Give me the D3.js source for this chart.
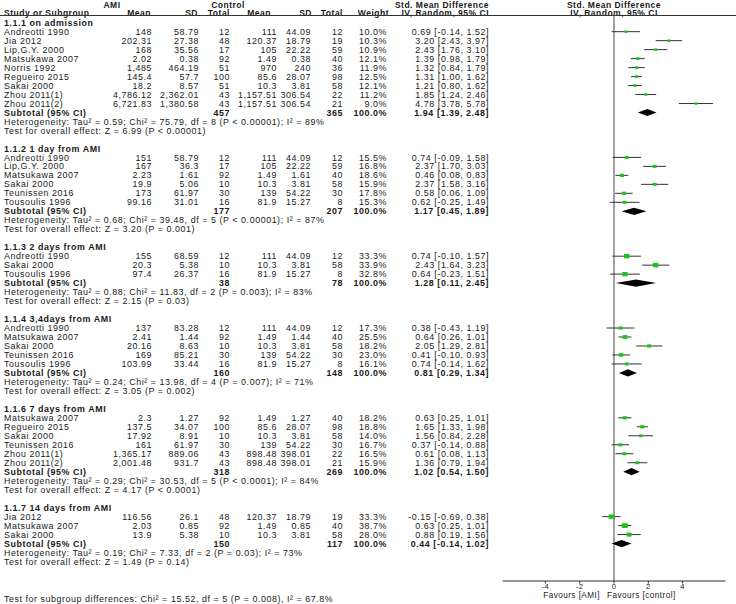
<!DOCTYPE html>
<html><head><meta charset="utf-8">
<script src="https://cdn.jsdelivr.net/npm/d3@7"></script>
<style>
html,body{margin:0;padding:0;background:#fff;}
text{font-family:"Liberation Sans",Arial,sans-serif;font-size:8.9px;fill:#1a1a1a;letter-spacing:0.56px;}
.b{font-weight:bold;}
.h{font-size:8.5px;letter-spacing:0.5px;}
.tl{font-size:7.6px;letter-spacing:0.4px;}
.sm{font-size:8.2px;letter-spacing:0.45px;}
</style></head>
<body><svg id="c" width="736" height="604"></svg>
<script>
// ---------- DATA ----------
const groupTitles = ["1.1.1 on admission","1.1.2 1 day from AMI","1.1.3 2 days from AMI","1.1.4 3,4days from AMI","1.1.6 7 days from AMI","1.1.7 14 days from AMI"];
const studyGroup = [0,0,0,0,0,0,0,0,0, 1,1,1,1,1,1, 2,2,2, 3,3,3,3,3, 4,4,4,4,4,4, 5,5,5];
const studyNames = ["Andreotti 1990","Jia 2012","Lip,G.Y. 2000","Matsukawa 2007","Norris 1992","Regueiro 2015","Sakai 2000","Zhou 2011(1)","Zhou 2011(2)",
  "Andreotti 1990","Lip,G.Y. 2000","Matsukawa 2007","Sakai 2000","Teunissen 2016","Tousoulis 1996",
  "Andreotti 1990","Sakai 2000","Tousoulis 1996",
  "Andreotti 1990","Matsukawa 2007","Sakai 2000","Teunissen 2016","Tousoulis 1996",
  "Matsukawa 2007","Regueiro 2015","Sakai 2000","Teunissen 2016","Zhou 2011(1)","Zhou 2011(2)",
  "Jia 2012","Matsukawa 2007","Sakai 2000"];
const amiMean = ["148","202.31","168","2.02","1,485","145.4","18.2","4,786.12","6,721.83",
  "151","167","2.23","19.9","173","99.16",
  "155","20.3","97.4",
  "137","2.41","20.16","169","103.99",
  "2.3","137.5","17.92","161","1,365.17","2,001.48",
  "116.56","2.03","13.9"];
const amiSD = ["58.79","27.38","35.56","0.38","464.19","57.7","8.57","2,362.01","1,380.58",
  "58.79","36.3","1.61","5.06","61.97","31.01",
  "68.59","5.38","26.37",
  "83.28","1.44","8.63","85.21","33.44",
  "1.27","34.07","8.91","61.97","889.06","931.7",
  "26.1","0.85","5.38"];
const amiTotal = [12,48,17,92,51,100,51,43,43, 12,17,92,10,30,16, 12,10,16, 12,92,10,30,16, 92,100,10,30,43,43, 48,92,10];
const ctlMean = ["111","120.37","105","1.49","970","85.6","10.3","1,157.51","1,157.51",
  "111","105","1.49","10.3","139","81.9",
  "111","10.3","81.9",
  "111","1.49","10.3","139","81.9",
  "1.49","85.6","10.3","139","898.48","898.48",
  "120.37","1.49","10.3"];
const ctlSD = ["44.09","18.79","22.22","0.38","240","28.07","3.81","306.54","306.54",
  "44.09","22.22","1.61","3.81","54.22","15.27",
  "44.09","3.81","15.27",
  "44.09","1.44","3.81","54.22","15.27",
  "1.27","28.07","3.81","54.22","398.01","398.01",
  "18.79","0.85","3.81"];
const ctlTotal = [12,19,59,40,36,98,58,22,21, 12,59,40,58,30,8, 12,58,8, 12,40,58,30,8, 40,98,58,30,22,21, 19,40,58];
const weights = [10.0,10.3,10.9,12.1,11.9,12.5,12.1,11.2,9.0, 15.5,16.8,18.6,15.9,17.8,15.3, 33.3,33.9,32.8, 17.3,25.5,18.2,23.0,16.1, 18.2,18.8,14.0,16.7,16.5,15.9, 33.3,38.7,28.0];
const smd = [0.69,3.20,2.43,1.39,1.32,1.31,1.21,1.85,4.78, 0.74,2.37,0.46,2.37,0.58,0.62, 0.74,2.43,0.64, 0.38,0.64,2.05,0.41,0.74, 0.63,1.65,1.56,0.37,0.61,1.36, -0.15,0.63,0.88];
const ciLow = [-0.14,2.43,1.76,0.98,0.84,1.00,0.80,1.24,3.78, -0.09,1.70,0.08,1.58,0.06,-0.25, -0.10,1.64,-0.23, -0.43,0.26,1.29,-0.10,-0.14, 0.25,1.33,0.84,-0.14,0.08,0.79, -0.69,0.25,0.19];
const ciHigh = [1.52,3.97,3.10,1.79,1.79,1.62,1.62,2.46,5.78, 1.58,3.03,0.83,3.16,1.09,1.49, 1.57,3.23,1.51, 1.19,1.01,2.81,0.93,1.62, 1.01,1.98,2.28,0.88,1.13,1.94, 0.38,1.01,1.56];
const subAmiTotal = [457,177,38,160,318,150];
const subCtlTotal = [365,207,78,148,269,117];
const subSmd = [1.94,1.17,1.28,0.81,1.02,0.44];
const subLow = [1.39,0.45,0.11,0.29,0.54,-0.14];
const subHigh = [2.48,1.89,2.45,1.34,1.50,1.02];
const heterogeneity = [
  "Heterogeneity: Tau² = 0.59; Chi² = 75.79, df = 8 (P < 0.00001); I² = 89%",
  "Heterogeneity: Tau² = 0.68; Chi² = 39.48, df = 5 (P < 0.00001); I² = 87%",
  "Heterogeneity: Tau² = 0.88; Chi² = 11.83, df = 2 (P = 0.003); I² = 83%",
  "Heterogeneity: Tau² = 0.24; Chi² = 13.98, df = 4 (P = 0.007); I² = 71%",
  "Heterogeneity: Tau² = 0.29; Chi² = 30.53, df = 5 (P < 0.0001); I² = 84%",
  "Heterogeneity: Tau² = 0.19; Chi² = 7.33, df = 2 (P = 0.03); I² = 73%"];
const overallTest = [
  "Test for overall effect: Z = 6.99 (P < 0.00001)",
  "Test for overall effect: Z = 3.20 (P = 0.001)",
  "Test for overall effect: Z = 2.15 (P = 0.03)",
  "Test for overall effect: Z = 3.05 (P = 0.002)",
  "Test for overall effect: Z = 4.17 (P < 0.0001)",
  "Test for overall effect: Z = 1.49 (P = 0.14)"];
const subgroupTest = "Test for subgroup differences: Chi² = 15.52, df = 5 (P = 0.008), I² = 67.8%";
const axisTicks = [-4,-2,0,2,4];
const axisDomain = [-6.5, 6.5];
const favoursLeft = "Favours [AMI]";
const favoursRight = "Favours [control]";

// ---------- LAYOUT ----------
const svg = d3.select("#c");
const x = d3.scaleLinear().domain(axisDomain).range([502.5, 725.5]);
const rowY = d3.scaleLinear().domain([0, 1]).range([22.7, 22.7 + 8.98]);
const axisY = 581;
const loc = d3.formatLocale({decimal: ".", thousands: ",", grouping: [3], currency: ["", ""], minus: "-"});
const fmt2 = loc.format(".2f");
const fmtW = loc.format(".1f");

function txt(xp, yp, s, anchor, cls) {
  return svg.append("text").attr("x", xp).attr("y", yp).attr("dy", "0.35em")
    .attr("text-anchor", anchor || "start").attr("class", cls || null).text(s);
}
function effectStr(m, l, h) { return fmt2(m) + " [" + fmt2(l) + ", " + fmt2(h) + "]"; }

// headers
txt(112, 4.6, "AMI", "middle", "b h");
txt(228, 4.6, "Control", "middle", "b h");
txt(489, 4.6, "Std. Mean Difference", "end", "b h");
txt(x(0), 4.6, "Std. Mean Difference", "middle", "b h");
txt(4, 13.2, "Study or Subgroup", "start", "b h");
txt(151, 13.2, "Mean", "end", "b h");
txt(198, 13.2, "SD", "end", "b h");
txt(230, 13.2, "Total", "end", "b h");
txt(271, 13.2, "Mean", "end", "b h");
txt(312, 13.2, "SD", "end", "b h");
txt(343, 13.2, "Total", "end", "b h");
txt(389, 13.2, "Weight", "end", "b h");
txt(489, 13.2, "IV, Random, 95% CI", "end", "b h");
txt(x(0), 13.2, "IV, Random, 95% CI", "middle", "b h");
svg.append("line").attr("x1", 0).attr("x2", 736).attr("y1", 15.5).attr("y2", 15.5)
  .attr("stroke", "#333").attr("stroke-width", 1);

// zero line
svg.append("line").attr("x1", x(0)).attr("x2", x(0)).attr("y1", 15.5).attr("y2", axisY)
  .attr("stroke", "#444").attr("stroke-width", 1);

// groups
let r = 0;
groupTitles.forEach((g, gi) => {
  txt(4, rowY(r), g, "start", "b");
  r++;
  studyNames.forEach((name, i) => {
    if (studyGroup[i] !== gi) return;
    const y = rowY(r);
    txt(4, y, name);
    txt(152, y, amiMean[i], "end");
    txt(199, y, amiSD[i], "end");
    txt(230, y, amiTotal[i], "end");
    txt(277, y, ctlMean[i], "end");
    txt(311, y, ctlSD[i], "end");
    txt(343, y, ctlTotal[i], "end");
    txt(387, y, fmtW(weights[i]) + "%", "end");
    txt(489, y, effectStr(smd[i], ciLow[i], ciHigh[i]), "end");
    svg.append("line").attr("x1", x(ciLow[i])).attr("x2", x(ciHigh[i]))
      .attr("y1", y).attr("y2", y).attr("stroke", "#333").attr("stroke-width", 1);
    const s = Math.sqrt(weights[i]) * 0.95;
    svg.append("rect").attr("x", x(smd[i]) - s / 2).attr("y", y - s / 2 * 0.8)
      .attr("width", s).attr("height", s * 0.8).attr("fill", "#1ec31e");
    r++;
  });
  const y = rowY(r);
  txt(4, y, "Subtotal (95% CI)", "start", "b");
  txt(230, y, subAmiTotal[gi], "end", "b");
  txt(343, y, subCtlTotal[gi], "end", "b");
  txt(387, y, "100.0%", "end", "b");
  txt(489, y, effectStr(subSmd[gi], subLow[gi], subHigh[gi]), "end", "b");
  const dh = 3.6;
  svg.append("path").attr("d",
    `M${x(subLow[gi])},${y} L${x(subSmd[gi])},${y - dh} L${x(subHigh[gi])},${y} L${x(subSmd[gi])},${y + dh} Z`)
    .attr("fill", "#000");
  r++;
  txt(4, rowY(r), heterogeneity[gi]); r++;
  txt(4, rowY(r), overallTest[gi]); r++;
  r++;
});

txt(4, 598.5, subgroupTest);

// axis
const ax = svg.append("g").attr("transform", `translate(0,${axisY})`);
ax.append("line").attr("x1", x(axisDomain[0])).attr("x2", x(axisDomain[1]))
  .attr("stroke", "#333").attr("stroke-width", 1);
ax.selectAll(".tk").data(axisTicks).enter().append("line")
  .attr("x1", d => x(d)).attr("x2", d => x(d)).attr("y1", 0).attr("y2", 2.5)
  .attr("stroke", "#333");
ax.selectAll(".tlab").data(axisTicks).enter().append("text")
  .attr("class", "tl")
  .attr("x", d => x(d)).attr("y", 5.2).attr("dy", "0.35em").attr("text-anchor", "middle")
  .text(d => d);
txt(x(0) - 14, 595, favoursLeft, "end", "sm");
txt(x(0) - 7, 595, favoursRight, "start", "sm");
</script></body></html>
